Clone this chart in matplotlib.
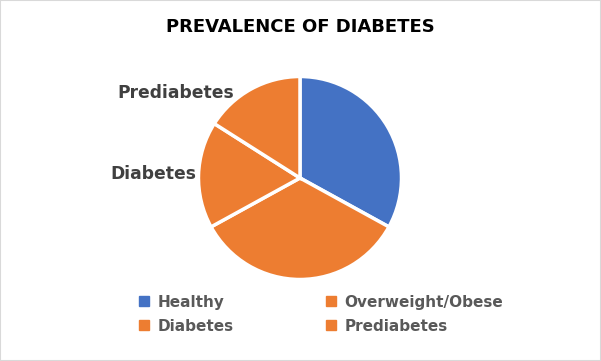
import matplotlib.pyplot as plt
from matplotlib.patches import Rectangle
from matplotlib.lines import Line2D

categories = ['Healthy', 'Overweight/Obese', 'Diabetes', 'Prediabetes']
shares = [33, 34, 17, 16]
colors = ['#4472C4', '#ED7D31', '#ED7D31', '#ED7D31']
shown_labels = ['', '', 'Diabetes', 'Prediabetes']

fig = plt.figure(figsize=(6.01, 3.61), dpi=100)
fig.patches.append(Rectangle((0, 0), 1, 1, transform=fig.transFigure,
                             fill=False, edgecolor='#D9D9D9', linewidth=1.5))

ax = fig.add_axes([0.2458, 0.0852, 0.5067, 0.8435])
wedges, texts = ax.pie(shares, colors=colors, labels=shown_labels,
                       startangle=90, counterclock=False,
                       wedgeprops=dict(edgecolor='white', linewidth=2.5),
                       textprops=dict(color='#404040', fontsize=12.3,
                                      fontweight='bold'))
ax.set_xlim(-1.5, 1.5)
ax.set_ylim(-1.5, 1.5)
ax.set_aspect('equal')

# Excel-style label placement
texts[2].set_position((-1.02, 0.04))
texts[2].set_ha('right')
texts[2].set_va('center')
texts[3].set_position((-0.65, 0.84))
texts[3].set_ha('right')
texts[3].set_va('center')

fig.text(0.5, 0.925, 'PREVALENCE OF DIABETES', ha='center', va='center',
         fontsize=13, fontweight='bold', color='black')

handles = [Line2D([], [], marker='s', linestyle='none', markersize=6.5,
                  color=c) for c in colors]
order = [0, 2, 1, 3]
fig.legend([handles[i] for i in order], [categories[i] for i in order],
           loc='upper left', bbox_to_anchor=(0.207, 0.222), ncol=2,
           frameon=False, handlelength=0.8, handletextpad=0.45,
           columnspacing=6.0, labelspacing=0.6,
           prop=dict(size=11, weight='bold'), labelcolor='#595959')

fig.savefig('out.png', dpi=100)
